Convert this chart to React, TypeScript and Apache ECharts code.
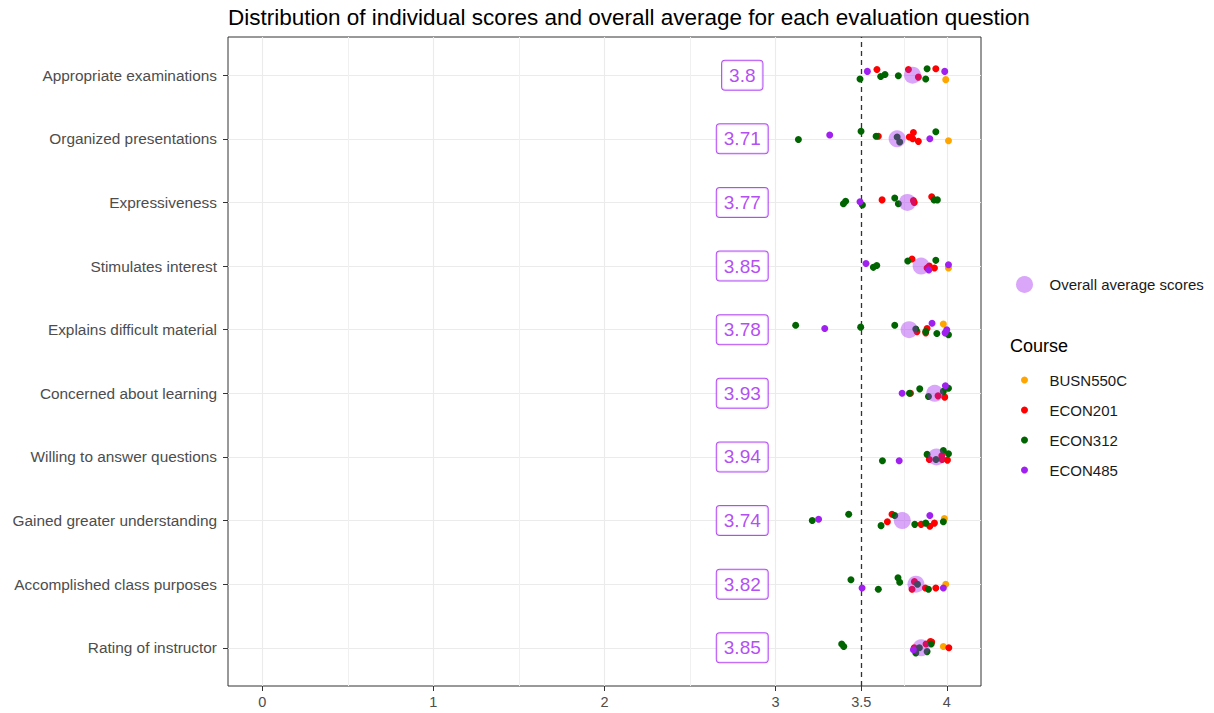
import React, { useEffect, useRef } from "react";
import * as echarts from "echarts";

const categories = [
  "Appropriate examinations",
  "Organized presentations",
  "Expressiveness",
  "Stimulates interest",
  "Explains difficult material",
  "Concerned about learning",
  "Willing to answer questions",
  "Gained greater understanding",
  "Accomplished class purposes",
  "Rating of instructor",
];

const avgScores = [3.8, 3.71, 3.77, 3.85, 3.78, 3.93, 3.94, 3.74, 3.82, 3.85];

const courseNames = ["BUSN550C", "ECON201", "ECON312", "ECON485"];
const courseColors = ["#FFA500", "#FF0000", "#006400", "#A020F0"];

// [question index, score, vertical jitter]
const busn550c = [
  [0, 3.994, 0.07], [1, 4.01, 0.03], [3, 4.01, 0.03], [4, 3.98, -0.09],
  [7, 3.986, -0.03], [8, 3.994, 0], [9, 3.98, -0.02],
];
const econ201 = [
  [0, 3.592, -0.09], [0, 3.776, -0.09], [0, 3.834, 0.03], [0, 3.936, -0.1],
  [1, 3.6, -0.04], [1, 3.805, -0.1], [1, 3.781, -0.03], [1, 3.801, 0], [1, 3.834, 0.04],
  [2, 3.622, -0.04], [2, 3.805, -0.03], [2, 3.81, 0], [2, 3.912, -0.09],
  [3, 3.797, -0.11], [3, 3.885, 0.03], [3, 3.898, 0], [3, 3.928, 0.03],
  [4, 3.826, 0.03], [4, 3.885, -0.02], [4, 3.877, 0.05],
  [5, 3.788, 0], [5, 3.949, 0.04], [5, 3.988, 0.06],
  [6, 3.898, 0.04], [6, 3.973, 0.04], [6, 3.971, -0.02], [6, 4.004, 0.05],
  [7, 3.68, -0.1], [7, 3.653, 0.02], [7, 3.85, 0.06], [7, 3.901, 0.09], [7, 3.928, 0.04],
  [8, 3.797, 0.08], [8, 3.811, -0.04], [8, 3.875, 0.06], [8, 3.936, 0.06],
  [9, 3.81, 0], [9, 3.879, -0.06], [9, 3.904, -0.1], [9, 3.912, -0.09], [9, 4.012, 0],
];
const econ312 = [
  [0, 3.493, 0.06], [0, 3.614, 0.02], [0, 3.639, -0.01], [0, 3.717, 0.01], [0, 3.885, -0.1], [0, 3.877, 0.06],
  [1, 3.133, 0.01], [1, 3.499, -0.12], [1, 3.587, -0.04], [1, 3.71, -0.03], [1, 3.725, 0.05], [1, 3.936, -0.11],
  [2, 3.396, 0.02], [2, 3.409, -0.02], [2, 3.507, 0.04], [2, 3.696, -0.07], [2, 3.717, 0.02], [2, 3.926, -0.04], [2, 3.945, -0.04],
  [3, 3.571, 0.02], [3, 3.591, -0.01], [3, 3.772, -0.08], [3, 3.936, -0.09],
  [4, 3.117, -0.07], [4, 3.497, -0.04], [4, 3.696, -0.07], [4, 3.819, -0.01], [4, 3.877, 0.03], [4, 3.942, 0.06], [4, 4.01, 0.08],
  [5, 3.782, 0], [5, 3.842, -0.07], [5, 3.893, 0.05], [5, 3.98, -0.03], [5, 4.01, -0.08],
  [6, 3.624, 0.06], [6, 3.885, -0.04], [6, 3.937, 0.04], [6, 3.98, -0.1], [6, 4.01, -0.05],
  [7, 3.214, 0], [7, 3.427, -0.1], [7, 3.696, -0.08], [7, 3.616, 0.08], [7, 3.813, 0.06], [7, 3.877, 0.04], [7, 3.98, 0.02],
  [8, 3.44, -0.07], [8, 3.6, 0.08], [8, 3.715, -0.1], [8, 3.725, -0.03], [8, 3.829, 0], [8, 3.893, 0.08],
  [9, 3.386, -0.06], [9, 3.398, -0.02], [9, 3.819, 0.08], [9, 3.84, 0], [9, 3.885, 0.06], [9, 3.909, -0.06],
];
const econ485 = [
  [0, 3.536, -0.06], [0, 3.988, -0.06],
  [1, 3.316, -0.06], [1, 3.901, 0],
  [2, 3.493, -0.01],
  [3, 3.528, -0.04], [3, 3.895, 0.06], [3, 4.01, -0.02],
  [4, 3.287, -0.02], [4, 3.914, -0.1], [4, 3.99, 0.05], [4, 4.0, 0],
  [5, 3.739, 0], [5, 3.992, -0.12],
  [6, 3.722, 0.06],
  [7, 3.251, -0.02], [7, 3.901, -0.08],
  [8, 3.505, 0.06], [8, 3.98, 0.06],
  [9, 3.805, 0.03],
];
const courseData = [busn550c, econ201, econ312, econ485];

const xTickValues = [0, 1, 2, 3, 3.5, 4];
const xMajorGrid = [0, 1, 2, 3, 4];
const xMinorGrid = [0.5, 1.5, 2.5, 3.75];
const referenceLine = 3.5;
const labelX = 2.805;

const FONT = "'Liberation Sans', Arial, Helvetica, sans-serif";
const PURPLE = "#A020F0";

export default function App() {
  const ref = useRef<HTMLDivElement>(null);

  useEffect(() => {
    if (!ref.current) return;
    const chart = echarts.init(ref.current, null, { renderer: "svg" });

    const grids = [
      { left: 228, right: 233, top: 37, height: 649, show: true, borderColor: "#333", borderWidth: 1, backgroundColor: "#fff" },
      { left: 228, right: 233, top: 75.2, height: 572.6, show: false },
    ];

    const courseSeries = courseNames.map((name, ci) => ({
      type: "scatter",
      name,
      xAxisIndex: 1,
      yAxisIndex: 1,
      symbol: "circle",
      symbolSize: 7,
      clip: false,
      z: 3,
      itemStyle: { color: courseColors[ci], opacity: 1 },
      data: courseData[ci].map((d) => [d[1], d[0] + d[2]]),
    }));

    const option: any = {
      animation: false,
      textStyle: { fontFamily: FONT },
      title: {
        text: "Distribution of individual scores and overall average for each evaluation question",
        left: 223,
        top: 1,
        textStyle: { fontFamily: FONT, fontSize: 22.5, fontWeight: "normal", color: "#000" },
      },
      grid: grids,
      legend: [
        {
          data: ["Overall average scores"],
          left: 1011,
          top: 271,
          icon: "circle",
          itemWidth: 40,
          itemHeight: 17,
          selectedMode: false,
          textStyle: { fontFamily: FONT, fontSize: 15, color: "#1a1a1a" },
        },
        {
          data: courseNames,
          orient: "vertical",
          left: 1016,
          top: 367,
          icon: "circle",
          itemWidth: 40,
          itemHeight: 7,
          itemGap: 14,
          selectedMode: false,
          textStyle: { fontFamily: FONT, fontSize: 15, lineHeight: 16, color: "#1a1a1a" },
        },
      ],
      graphic: [
        {
          type: "text",
          left: 1010,
          top: 337,
          style: { text: "Course", fontFamily: FONT, fontSize: 18, fill: "#000" },
        },
      ],
      xAxis: [
        {
          type: "value",
          gridIndex: 0,
          min: -0.2,
          max: 4.2,
          axisLine: { show: false, onZero: false },
          splitLine: { show: false },
          axisTick: { show: true, length: 5, customValues: xTickValues, lineStyle: { color: "#333" } },
          axisLabel: {
            customValues: xTickValues,
            margin: 8,
            color: "#4d4d4d",
            fontSize: 14.5,
            fontFamily: FONT,
            formatter: (v: number) => String(v),
          },
        },
        { type: "value", gridIndex: 1, min: -0.2, max: 4.2, show: false },
      ],
      yAxis: [
        { type: "value", gridIndex: 0, min: 0, max: 1, show: false },
        {
          type: "value",
          gridIndex: 1,
          min: 0,
          max: 9,
          interval: 1,
          inverse: true,
          axisLine: { show: false, onZero: false },
          axisTick: { show: true, length: 5, lineStyle: { color: "#333" } },
          splitLine: { show: true, lineStyle: { color: "#ebebeb", width: 1.1 } },
          axisLabel: {
            margin: 11,
            color: "#4d4d4d",
            fontSize: 15.4,
            fontFamily: FONT,
            formatter: (v: number) => categories[v] ?? "",
          },
        },
      ],
      series: [
        {
          type: "line",
          name: "_grid",
          xAxisIndex: 0,
          yAxisIndex: 0,
          data: [],
          silent: true,
          z: 1,
          markLine: {
            silent: true,
            z: 1,
            symbol: "none",
            label: { show: false },
            animation: false,
            data: [
              ...xMajorGrid.map((v) => ({ xAxis: v, lineStyle: { color: "#ebebeb", width: 1.1, type: "solid" } })),
              ...xMinorGrid.map((v) => ({ xAxis: v, lineStyle: { color: "#f0f0f0", width: 1, type: "solid" } })),
              { xAxis: referenceLine, lineStyle: { color: "#333", width: 1.3, type: [5, 4] } },
            ],
          },
        },
        ...courseSeries,
        {
          type: "scatter",
          name: "Overall average scores",
          xAxisIndex: 1,
          yAxisIndex: 1,
          symbol: "circle",
          symbolSize: 17,
          clip: false,
          z: 4,
          itemStyle: { color: "rgba(160,32,240,0.5)" },
          data: avgScores.map((v, i) => [v, i]),
        },
        {
          type: "scatter",
          name: "_labels",
          xAxisIndex: 1,
          yAxisIndex: 1,
          symbolSize: 1,
          clip: false,
          z: 5,
          silent: true,
          itemStyle: { color: "rgba(0,0,0,0)" },
          data: avgScores.map((v, i) => [labelX, i]),
          label: {
            show: true,
            position: "inside",
            formatter: (p: any) => String(avgScores[p.dataIndex]),
            color: PURPLE,
            fontFamily: FONT,
            fontSize: 19,
            lineHeight: 19,
            backgroundColor: "#fff",
            borderColor: PURPLE,
            borderWidth: 1,
            borderRadius: 3,
            padding: [5, 7],
          },
        },
      ],
    };

    chart.setOption(option);
    return () => chart.dispose();
  }, []);

  return (
    <div
      ref={ref}
      style={{ position: "absolute", left: 0, top: 0, width: 1214, height: 713, background: "#fff" }}
    />
  );
}
